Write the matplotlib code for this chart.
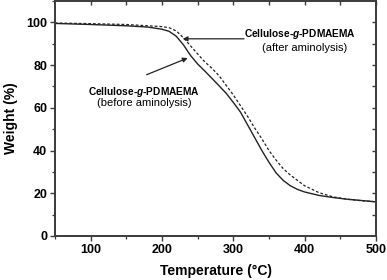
import matplotlib
matplotlib.use("Agg")
import matplotlib.pyplot as plt
from matplotlib.ticker import MultipleLocator

plt.rcParams['font.family'] = ['Liberation Sans', 'DejaVu Sans']
plt.rcParams['mathtext.fontset'] = 'custom'
plt.rcParams['mathtext.it'] = 'Liberation Sans:italic:bold'
plt.rcParams['mathtext.rm'] = 'Liberation Sans:bold'

temp_before = [50, 100, 150, 180, 200, 210, 220, 230, 240, 250, 260, 270, 280, 290,
               300, 310, 320, 330, 340, 350, 360, 370, 380, 390, 400, 420, 440, 460, 480, 500]
weight_before = [99.5, 99.0, 98.4, 97.8, 96.8, 95.8, 93.5, 89.5, 84.5, 80.5, 77.2, 73.8, 70.3, 66.8,
                 62.5, 58.0, 52.0, 46.0, 40.0, 34.5, 29.5, 26.0, 23.5, 21.8, 20.6, 19.0, 18.0, 17.2, 16.6, 16.0]

temp_after = [50, 100, 150, 200, 210, 220, 230, 240, 250, 260, 270, 280, 290, 300,
              310, 320, 330, 340, 350, 360, 370, 380, 390, 400, 420, 440, 460, 480, 500]
weight_after = [99.7, 99.4, 99.0, 98.0, 97.5, 96.0, 92.8, 89.0, 85.2, 81.5, 78.5, 75.0, 70.5, 66.0,
                61.0, 56.0, 50.5, 45.5, 40.0, 35.5, 31.5, 28.5, 26.0, 23.5, 20.3, 18.3, 17.2, 16.5, 16.0]

xlabel = "Temperature (°C)"
ylabel = "Weight (%)"
label_after = ["Cellulose-$\\mathit{g}$-PDMAEMA", "(after aminolysis)"]
label_before = ["Cellulose-$\\mathit{g}$-PDMAEMA", "(before aminolysis)"]

fig = plt.figure(figsize=(3.87, 2.80), dpi=100)
ax = fig.add_axes([55/387, 44/280, 321/387, 235/280])

line_col = '#222222'
ax.plot(temp_before, weight_before, color=line_col, lw=1.0)
ax.plot(temp_after, weight_after, color=line_col, lw=0.9, ls=(0, (2.2, 1.6)))

ax.set_xlim(50, 500)
ax.set_ylim(0, 110)
ax.xaxis.set_major_locator(MultipleLocator(100))
ax.xaxis.set_minor_locator(MultipleLocator(50))
ax.set_yticks([0, 20, 40, 60, 80, 100])
ax.yaxis.set_minor_locator(MultipleLocator(10))

for s in ax.spines.values():
    s.set_color('#3a3a3a')
    s.set_linewidth(1.4)

ax.tick_params(axis='both', which='major', direction='out', length=3.5, width=1.0,
               color='#3a3a3a', labelsize=9, pad=2)
ax.tick_params(axis='both', which='minor', direction='out', length=2, width=0.9, color='#3a3a3a')
for lab in ax.get_xticklabels() + ax.get_yticklabels():
    lab.set_fontweight('bold')

# mirrored ticks on top and right (inward)
axt = ax.secondary_xaxis('top')
axt.set_xticks([100, 150, 200, 250, 300, 350, 400, 450, 500])
axt.tick_params(direction='in', length=3, width=1.0, color='#3a3a3a', labeltop=False)
axt.spines['top'].set_visible(False)
axr = ax.secondary_yaxis('right')
axr.set_yticks([10, 20, 30, 40, 50, 60, 70, 80, 90, 100])
axr.tick_params(direction='in', length=3, width=1.0, color='#3a3a3a', labelright=False)
axr.spines['right'].set_visible(False)

ax.set_xlabel(xlabel, fontsize=10, fontweight='bold', labelpad=6)
ax.set_ylabel(ylabel, fontsize=10, fontweight='bold', labelpad=6)

# annotations
ax.annotate('', xy=(229, 92.3), xytext=(315, 92.3),
            arrowprops=dict(arrowstyle='-|>', color='#222222', lw=0.9,
                            mutation_scale=7, shrinkA=0, shrinkB=0))
ax.text(393, 94.4, label_after[0], fontsize=7.3, fontweight='bold', ha='center', va='center')
ax.text(399.5, 88.1, label_after[1], fontsize=8, ha='center', va='center')

ax.annotate('', xy=(236, 83.3), xytext=(178.5, 75.5),
            arrowprops=dict(arrowstyle='-|>', color='#222222', lw=0.9,
                            mutation_scale=7, shrinkA=0, shrinkB=0))
ax.text(174.5, 67.3, label_before[0], fontsize=7.3, fontweight='bold', ha='center', va='center')
ax.text(175.5, 62.4, label_before[1], fontsize=8, ha='center', va='center')

fig.savefig('out.png', dpi=100)
